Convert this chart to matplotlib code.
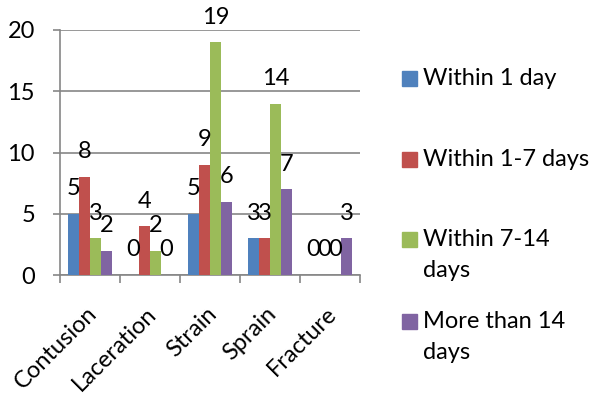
import matplotlib.pyplot as plt
from matplotlib.patches import Rectangle
from matplotlib.transforms import ScaledTranslation
import numpy as np

plt.rcParams['font.family'] = ['Lato', 'DejaVu Sans']

# injury types and time-to-return counts
categories = ['Contusion', 'Laceration', 'Strain', 'Sprain', 'Fracture']
series_names = ['Within 1 day', 'Within 1-7 days', 'Within 7-14\ndays', 'More than 14\ndays']
within_1 = [5, 0, 5, 3, 0]
within_1_7 = [8, 4, 9, 3, 0]
within_7_14 = [3, 2, 19, 14, 0]
more_14 = [2, 0, 6, 7, 3]
series_values = [within_1, within_1_7, within_7_14, more_14]
colors = ['#4F81BD', '#C0504D', '#9BBB59', '#8064A2']

grid_grey = '#868686'
fs = 17

fig = plt.figure(figsize=(5.94, 3.96), dpi=100)
ax = fig.add_axes([60 / 594, 1 - 275 / 396, 300 / 594, 245 / 396])

x = np.arange(len(categories))
bar_w = 0.183
for i, (vals, col) in enumerate(zip(series_values, colors)):
    pos = x + (i - 1.5) * bar_w
    ax.bar(pos, vals, width=bar_w, color=col, zorder=3)
    for px, v in zip(pos, vals):
        ax.annotate(str(v), (px, v), xytext=(0, 18), textcoords='offset points',
                    ha='center', va='center', fontsize=fs, zorder=4)

ax.set_xlim(-0.5, len(categories) - 0.5)
ax.set_ylim(0, 20)
ax.set_yticks([0, 5, 10, 15, 20])
ax.yaxis.grid(True, color=grid_grey, linewidth=1.2, zorder=0)
ax.tick_params(axis='y', length=5, width=1.2, color=grid_grey, pad=13, labelsize=fs)

# category boundaries get tick marks, labels sit at the centers
ax.set_xticks(x)
ax.set_xticklabels(categories, rotation=45, ha='right', rotation_mode='anchor', fontsize=17)
ax.set_xticks(np.arange(len(categories) + 1) - 0.5, minor=True)
ax.tick_params(axis='x', which='major', length=0, pad=20)
ax.tick_params(axis='x', which='minor', length=6, width=1.2, color=grid_grey)
shift = ScaledTranslation(-3 / 72, 0, fig.dpi_scale_trans)
for lbl in ax.get_xticklabels():
    lbl.set_transform(lbl.get_transform() + shift)

for side in ['top', 'right']:
    ax.spines[side].set_visible(False)
for side in ['left', 'bottom']:
    ax.spines[side].set_color(grid_grey)
    ax.spines[side].set_linewidth(1.2)

# legend on the right, entries spread evenly
leg_y = [79, 160, 240, 322]
for name, col, yc in zip(series_names, colors, leg_y):
    fig.add_artist(Rectangle((402 / 594, 1 - (yc + 7) / 396), 15 / 594, 15 / 396,
                             transform=fig.transFigure, color=col))
    fig.text(423 / 594, 1 - (yc - 11) / 396, name, ha='left', va='top',
             fontsize=fs, linespacing=1.6)

fig.savefig('out.png', dpi=100)
